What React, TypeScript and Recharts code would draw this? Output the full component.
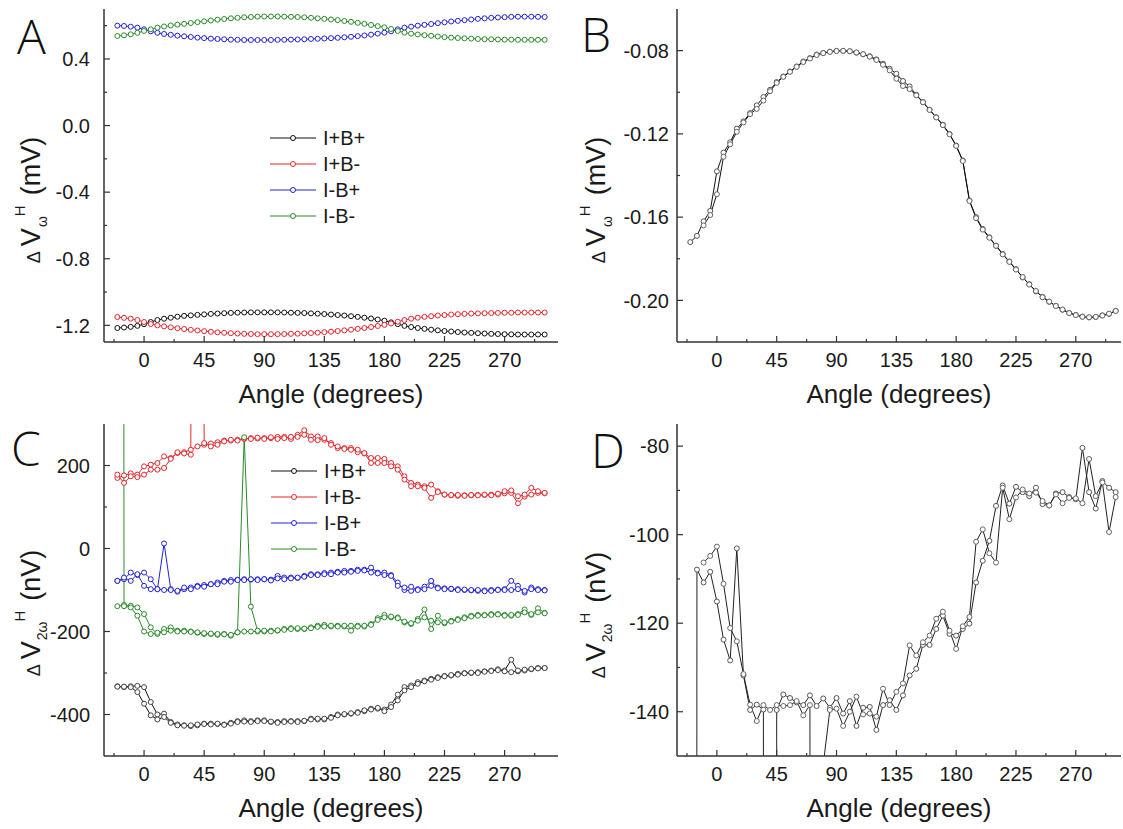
import { LineChart, Line, XAxis, YAxis, Legend } from 'recharts'

const FONT = '"Liberation Sans", Arial, sans-serif'
const AXIS = '#333'

const angles = [
  -20, -15, -10, -5, 0, 5, 10, 15, 20, 25,
  30, 35, 40, 45, 50, 55, 60, 65, 70, 75,
  80, 85, 90, 95, 100, 105, 110, 115, 120, 125,
  130, 135, 140, 145, 150, 155, 160, 165, 170, 175,
  180, 185, 190, 195, 200, 205, 210, 215, 220, 225,
  230, 235, 240, 245, 250, 255, 260, 265, 270, 275,
  280, 285, 290, 295, 300,
]

const legendNames = ['I+B+', 'I+B-', 'I-B+', 'I-B-']

// tick lists (minor + major)
const xTicks = [-22.5, 0, 22.5, 45, 67.5, 90, 112.5, 135, 157.5, 180, 202.5, 225, 247.5, 270, 292.5]
const yTicksA = [-1.2, -1.0, -0.8, -0.6, -0.4, -0.2, 0, 0.2, 0.4, 0.6]
const yTicksB = [-0.2, -0.18, -0.16, -0.14, -0.12, -0.1, -0.08]
const yTicksC = [-400, -300, -200, -100, 0, 100, 200]
const yTicksD = [-140, -130, -120, -110, -100, -90, -80]

// panel A, ΔV_ω^H (mV)
const aIpBp = [
  -1.216, -1.213, -1.209, -1.203, -1.193, -1.180, -1.168, -1.160, -1.154, -1.148,
  -1.143, -1.140, -1.137, -1.134, -1.131, -1.129, -1.127, -1.125, -1.124, -1.123,
  -1.122, -1.122, -1.122, -1.122, -1.122, -1.123, -1.124, -1.125, -1.126, -1.128,
  -1.130, -1.132, -1.135, -1.138, -1.141, -1.145, -1.149, -1.154, -1.159, -1.165,
  -1.172, -1.182, -1.193, -1.203, -1.210, -1.216, -1.221, -1.226, -1.230, -1.234,
  -1.237, -1.240, -1.243, -1.245, -1.247, -1.249, -1.251, -1.252, -1.253, -1.254,
  -1.255, -1.255, -1.255, -1.255, -1.255,
]
const aIpBm = [
  -1.150, -1.155, -1.160, -1.168, -1.180, -1.192, -1.200, -1.206, -1.212, -1.217,
  -1.222, -1.227, -1.231, -1.235, -1.239, -1.242, -1.245, -1.247, -1.249, -1.251,
  -1.252, -1.253, -1.253, -1.253, -1.253, -1.252, -1.251, -1.250, -1.248, -1.246,
  -1.244, -1.241, -1.238, -1.234, -1.230, -1.226, -1.221, -1.216, -1.210, -1.204,
  -1.197, -1.189, -1.178, -1.168, -1.160, -1.154, -1.149, -1.145, -1.141, -1.138,
  -1.135, -1.133, -1.131, -1.129, -1.128, -1.127, -1.126, -1.125, -1.124, -1.124,
  -1.123, -1.123, -1.123, -1.123, -1.123,
]
const aImBp = [
  0.600, 0.598, 0.594, 0.588, 0.578, 0.566, 0.557, 0.550, 0.545, 0.540,
  0.536, 0.532, 0.528, 0.525, 0.522, 0.520, 0.518, 0.516, 0.515, 0.514,
  0.514, 0.514, 0.514, 0.514, 0.515, 0.515, 0.516, 0.517, 0.518, 0.520,
  0.521, 0.523, 0.525, 0.527, 0.530, 0.533, 0.537, 0.541, 0.546, 0.552,
  0.558, 0.566, 0.578, 0.588, 0.594, 0.600, 0.605, 0.610, 0.615, 0.620,
  0.625, 0.629, 0.633, 0.637, 0.641, 0.644, 0.647, 0.649, 0.651, 0.653,
  0.654, 0.654, 0.654, 0.653, 0.652,
]
const aImBm = [
  0.538, 0.542, 0.548, 0.557, 0.568, 0.578, 0.588, 0.595, 0.601, 0.606,
  0.611, 0.616, 0.621, 0.626, 0.631, 0.636, 0.640, 0.644, 0.647, 0.650,
  0.652, 0.654, 0.655, 0.655, 0.655, 0.654, 0.653, 0.652, 0.650, 0.647,
  0.644, 0.641, 0.637, 0.633, 0.628, 0.623, 0.617, 0.611, 0.604, 0.597,
  0.590, 0.580, 0.568, 0.558, 0.552, 0.547, 0.543, 0.539, 0.535, 0.531,
  0.528, 0.526, 0.524, 0.522, 0.520, 0.519, 0.518, 0.517, 0.516, 0.516,
  0.515, 0.515, 0.515, 0.515, 0.515,
]

// panel B, two sweeps (mV)
const bSweep1 = [
  -0.172, -0.169, -0.162, -0.157, -0.138, -0.129, -0.124, -0.1175, -0.114, -0.110,
  -0.1063, -0.1023, -0.0988, -0.0951, -0.0924, -0.0900, -0.0876, -0.0852, -0.0836, -0.0819,
  -0.0811, -0.0805, -0.0801, -0.0801, -0.0803, -0.0810, -0.0818, -0.0827, -0.0842, -0.0863,
  -0.0887, -0.0911, -0.0946, -0.0972, -0.1012, -0.1047, -0.1084, -0.1120, -0.1156, -0.1200,
  -0.1256, -0.1328, -0.1520, -0.1600, -0.1657, -0.1697, -0.1737, -0.1777, -0.1813, -0.1850,
  -0.1890, -0.1922, -0.1957, -0.1983, -0.2007, -0.2026, -0.2045, -0.2060, -0.2070, -0.2078,
  -0.2082, -0.2080, -0.2072, -0.2065, -0.2050,
]
const bSweep2 = [
  null, null, -0.164, -0.159, -0.149, -0.131, -0.125, -0.119, -0.1145, -0.1105,
  -0.108, -0.104, -0.0995, -0.0955, -0.0926, -0.0902, -0.0878, -0.0855, -0.0838, -0.0821,
  -0.0812, -0.0806, -0.0802, -0.0801, -0.0803, -0.0809, -0.0817, -0.0829, -0.0845, -0.0868,
  -0.0895, -0.0935, -0.0970, -0.0985, -0.1015, -0.1048, -0.1085, -0.1121, -0.1158, -0.1202,
  -0.1258, -0.1330, -0.1522, -0.1605, -0.1660, -0.1699, -0.1738, -0.1779, -0.1815, -0.1852,
  -0.1888, -0.1924, -0.1955, -0.1985, -0.2006, -0.2027, -0.2044, -0.2061, -0.2071, -0.2079,
  -0.2081, -0.2079, -0.2073, -0.2064, -0.2051,
]

// panel C, ΔV_2ω^H (nV), two sweeps per configuration
const cIpBp1 = [
  -332, -334, -332, -331, -334, -370, -400, -398, -418, -424,
  -426, -428, -426, -422, -422, -423, -424, -420, -416, -414,
  -416, -414, -414, -418, -418, -416, -416, -416, -416, -410,
  -412, -412, -406, -400, -400, -398, -394, -392, -386, -386,
  -388, -376, -352, -334, -330, -322, -318, -314, -310, -307,
  -306, -302, -300, -300, -298, -296, -294, -291, -294, -268,
  -296, -294, -291, -288, -288,
]
const cIpBp2 = [
  -333, -333, -334, -346, -374, -402, -412, -406, -420, -426,
  -427, -426, -424, -423, -424, -422, -425, -422, -418, -417,
  -418, -416, -416, -417, -420, -418, -417, -418, -415, -412,
  -410, -410, -408, -402, -399, -397, -396, -390, -388, -384,
  -392, -382, -366, -342, -334, -326, -320, -316, -312, -308,
  -305, -304, -301, -299, -300, -297, -295, -293, -296, -298,
  -294, -292, -290, -289, -288,
]
const cIpBm1 = [
  170, 176, 181, 178, 198, 202, 206, 222, 218, 230,
  232, 238, 246, 250, 253, 256, 260, 260, 262, 264,
  266, 265, 266, 266, 269, 269, 264, 274, 285, 270,
  270, 262, 254, 242, 242, 242, 232, 229, 218, 218,
  216, 206, 198, 174, 158, 154, 150, 154, 138, 130,
  128, 127, 128, 128, 129, 129, 130, 130, 133, 134,
  109, 125, 130, 134, 133,
]
const cIpBm2 = [
  178, 158, 174, 172, 178, 190, 190, 194, 216, 232,
  229, 226, 5000, 254, 246, 250, 258, 262, 260, 265,
  264, 267, 264, 268, 264, 266, 269, 269, 274, 262,
  261, 266, 250, 246, 240, 238, 238, 230, 206, 206,
  206, 198, 190, 166, 150, 150, 146, 122, 136, 130,
  129, 129, 127, 129, 128, 130, 128, 132, 138, 140,
  126, 130, 146, 138, 134,
]
const cImBp1 = [
  -78, -74, -58, -64, -58, -74, -98, 12, -98, -104,
  -98, -94, -90, -88, -86, -82, -78, -76, -75, -74,
  -75, -74, -74, -75, -66, -70, -70, -71, -66, -62,
  -62, -59, -58, -56, -54, -54, -51, -51, -46, -58,
  -58, -64, -82, -100, -102, -98, -92, -78, -94, -96,
  -98, -98, -100, -101, -102, -101, -100, -99, -98, -78,
  -90, -106, -94, -98, -100,
]
const cImBp2 = [
  -78, -70, -78, -62, -90, -98, -98, -100, -100, -102,
  -94, -98, -92, -92, -86, -86, -80, -80, -76, -76,
  -74, -76, -74, -77, -72, -74, -72, -70, -68, -64,
  -64, -62, -62, -58, -58, -56, -54, -53, -58, -60,
  -64, -66, -90, -94, -92, -100, -98, -90, -96, -98,
  -97, -100, -99, -100, -100, -103, -102, -100, -100, -100,
  -98, -102, -98, -100, -101,
]
const cImBm1 = [
  -139, -136, -138, -142, -158, -190, -206, -194, -190, -198,
  -198, -200, -203, -206, -206, -208, -206, -210, -202, -200,
  -200, -200, -200, -198, -198, -194, -192, -194, -194, -190,
  -186, -184, -188, -186, -188, -198, -186, -188, -182, -168,
  -160, -166, -166, -178, -182, -170, -147, -194, -162, -180,
  -174, -170, -166, -162, -160, -160, -158, -158, -160, -162,
  -158, -147, -160, -144, -155,
]
const cImBm2 = [
  20000, -139, -142, -162, -200, -206, -203, -202, -198, -200,
  -200, -201, -202, -204, -205, -206, -207, -208, -202, 268,
  -140, -198, -198, -200, -197, -196, -194, -192, -193, -192,
  -189, -188, -186, -188, -186, -186, -188, -186, -184, -172,
  -166, -164, -168, -176, -180, -174, -166, -174, -178, -178,
  -176, -172, -168, -164, -162, -161, -160, -159, -162, -160,
  -160, -154, -158, -154, -156,
]

// panel D, two sweeps (nV)
const dSweep1 = [
  -3000, -107.9, -110.8, -108.4, -115.1, -123.7, -128.4, -103.1, -131.8, -139.6,
  -138.4, -139.5, -3000, -139.6, -136.1, -136.9, -137.9, -138.5, -136.3, -138.7,
  -137, -139.1, -136.9, -140.4, -137.6, -143.2, -139.1, -138.9, -144.1, -138.5,
  -137.4, -139.6, -136.3, -131.8, -130.3, -124.9, -124.9, -121.3, -118.3, -122.4,
  -122.8, -121.3, -120.1, -110.8, -105.9, -101.4, -93.5, -88.9, -93, -89.2,
  -90.4, -91.3, -89.4, -93.1, -93.4, -90.7, -90.4, -91.5, -92, -80.4,
  -90.4, -94.1, -87.9, -89.4, -90.4,
]
const dSweep2 = [
  null, null, -106.3, -104.8, -102.7, -111.1, -121.1, -124.1, -131.5, -138.4,
  -142.1, -138.5, -139.6, -138.5, -138.7, -138.5, -137.6, -140.8, -138.5, -3000,
  -152, -139.6, -139.3, -143.2, -140, -136.6, -140.6, -140.4, -141.1, -134.8,
  -138.5, -135.5, -133.6, -125, -127.3, -124.3, -122.8, -119, -117.4, -121.7,
  -125.8, -120.7, -118.6, -101.6, -98.8, -104.2, -106.3, -89.4, -96.5, -91.6,
  -89.8, -90.7, -90.5, -92.4, -93.4, -90.9, -92.9, -91.7, -91.8, -92.9,
  -82.9, -91.3, -88.2, -99.4, -91.5,
]

const COLORS = { ipbp: '#111111', ipbm: '#e3262b', imbp: '#2222d6', imbm: '#2a8a2a' }

const dataA = angles.map((angle, i) => ({ angle, ipbp: aIpBp[i], ipbm: aIpBm[i], imbp: aImBp[i], imbm: aImBm[i] }))
const dataB = angles.map((angle, i) => ({ angle, s1: bSweep1[i], s2: bSweep2[i] }))
const dataC = angles.map((angle, i) => ({
  angle,
  ipbp1: cIpBp1[i], ipbp2: cIpBp2[i],
  ipbm1: cIpBm1[i], ipbm2: cIpBm2[i],
  imbp1: cImBp1[i], imbp2: cImBp2[i],
  imbm1: cImBm1[i], imbm2: cImBm2[i],
}))
const dataD = angles.map((angle, i) => ({ angle, s1: dSweep1[i], s2: dSweep2[i] }))

type Side = 'left' | 'right' | 'top' | 'bottom'

function axisTick(side: Side, step: number, fmt?: (v: number) => string, gap = 12) {
  return function Tick(props: any) {
    const { x, y, payload } = props
    const v = payload.value as number
    const q = v / step
    const major = Math.abs(q - Math.round(q)) < 1e-6
    const len = major ? 6 : 3
    let x2 = x
    let y2 = y
    if (side === 'left') x2 = x + len
    if (side === 'right') x2 = x - len
    if (side === 'top') y2 = y + len
    if (side === 'bottom') y2 = y - len
    return (
      <g>
        <line x1={x} y1={y} x2={x2} y2={y2} stroke={AXIS} strokeWidth={1.2} />
        {major && fmt && side === 'left' && (
          <text x={x - gap} y={y} dy="0.36em" textAnchor="end" fontSize={20} fontFamily={FONT} fill="#1a1a1a">
            {fmt(v)}
          </text>
        )}
        {major && fmt && side === 'bottom' && (
          <text x={x} y={y + 25} textAnchor="middle" fontSize={20} fontFamily={FONT} fill="#1a1a1a">
            {fmt(v)}
          </text>
        )}
      </g>
    )
  }
}

const fmtDeg = (v: number) => String(v)

function frameAxes(xDomain: [number, number], yDomain: [number, number], yTicks: number[], yStep: number,
  yFmt: (v: number) => string, yWidth: number, yGap: number) {
  const line = { stroke: AXIS, strokeWidth: 1.5 }
  return [
    <XAxis key="xb" type="number" dataKey="angle" domain={xDomain} allowDataOverflow ticks={xTicks} interval={0}
      height={73} tickSize={0} tickMargin={0} tickLine={false} axisLine={line} tick={axisTick('bottom', 45, fmtDeg)} />,
    <XAxis key="xt" xAxisId="t" orientation="top" type="number" dataKey="angle" domain={xDomain} allowDataOverflow
      ticks={xTicks} interval={0} height={0} tickSize={0} tickMargin={0} tickLine={false} axisLine={line}
      tick={axisTick('top', 45)} />,
    <YAxis key="yl" type="number" domain={yDomain} allowDataOverflow ticks={yTicks} interval={0} width={yWidth}
      tickSize={0} tickMargin={0} tickLine={false} axisLine={line} tick={axisTick('left', yStep, yFmt, yGap)} />,
    <YAxis key="yr" yAxisId="r" orientation="right" type="number" domain={yDomain} allowDataOverflow ticks={yTicks}
      interval={0} width={0} tickSize={0} tickMargin={0} tickLine={false} axisLine={line}
      tick={axisTick('right', yStep)} />,
  ]
}

function series(dataKey: string, color: string, name?: string, marker?: string) {
  return (
    <Line key={dataKey} type="linear" dataKey={dataKey} name={name ?? dataKey} stroke={color} strokeWidth={1}
      dot={{ r: 2.5, stroke: marker ?? color, strokeWidth: 1, fill: '#fff' }} activeDot={false}
      legendType={name ? 'line' : 'none'} isAnimationActive={false} />
  )
}

const renderLegend = (props: any) => (
  <div style={{ fontFamily: FONT, fontSize: 20, color: '#1a1a1a' }}>
    {(props.payload || []).filter((e: any) => legendNames.includes(e.value)).map((e: any) => (
      <div key={e.value} style={{ display: 'flex', alignItems: 'center', height: 26 }}>
        <svg width={46} height={10} style={{ marginRight: 7 }}>
          <line x1={0} x2={46} y1={5} y2={5} stroke={e.color} strokeWidth={1} />
          <circle cx={23} cy={5} r={2.5} stroke={e.color} strokeWidth={1} fill="#fff" />
        </svg>
        <span>{e.value}</span>
      </div>
    ))}
  </div>
)

function YTitle({ x, y, sub, unit }: { x: number; y: number; sub: string; unit: string }) {
  return (
    <text transform={`translate(${x},${y}) rotate(-90)`} textAnchor="middle" fontSize={27} fontFamily={FONT} fill="#1a1a1a">
      <tspan fontSize={18}>Δ</tspan>
      <tspan dx={5}>V</tspan>
      <tspan fontSize={14} dx={1} dy={7}>{sub}</tspan>
      <tspan fontSize={15} dx={0} dy={-22}>H</tspan>
      <tspan dx={10} dy={15}>{unit}</tspan>
    </text>
  )
}

export default function App() {
  return (
    <div style={{ position: 'absolute', left: 0, top: 0, width: 1123, height: 829, overflow: 'hidden', background: '#fff' }}>
      <div style={{ position: 'absolute', left: 0, top: 0 }}>
        <LineChart width={560} height={415} data={dataA} margin={{ top: 9, right: 2, bottom: 0, left: 0 }}>
          {frameAxes([-30, 310], [-1.3, 0.7], yTicksA, 0.4, v => v.toFixed(1), 104, 14)}
          {series('ipbp', COLORS.ipbp, 'I+B+')}
          {series('ipbm', COLORS.ipbm, 'I+B-')}
          {series('imbp', COLORS.imbp, 'I-B+')}
          {series('imbm', COLORS.imbm, 'I-B-')}
          <Legend layout="vertical" align="center" verticalAlign="middle" content={renderLegend}
            wrapperStyle={{ left: 270, top: 125, width: 'auto' }} />
        </LineChart>
      </div>
      <div style={{ position: 'absolute', left: 560, top: 0 }}>
        <LineChart width={563} height={415} data={dataB} margin={{ top: 9, right: 2, bottom: 0, left: 0 }}>
          {frameAxes([-30, 304], [-0.22, -0.06], yTicksB, 0.04, v => v.toFixed(2), 117, 8)}
          {series('s1', '#111', undefined, '#555')}
          {series('s2', '#111', undefined, '#666')}
        </LineChart>
      </div>
      <div style={{ position: 'absolute', left: 0, top: 415 }}>
        <LineChart width={560} height={414} data={dataC} margin={{ top: 9, right: 2, bottom: 0, left: 0 }}>
          {frameAxes([-30, 310], [-500, 300], yTicksC, 200, v => String(v), 104, 14)}
          {series('ipbp1', COLORS.ipbp, 'I+B+', '#444')}
          {series('ipbm1', COLORS.ipbm, 'I+B-')}
          {series('imbp1', COLORS.imbp, 'I-B+')}
          {series('imbm1', COLORS.imbm, 'I-B-')}
          {series('ipbp2', COLORS.ipbp, undefined, '#444')}
          {series('ipbm2', COLORS.ipbm)}
          {series('imbp2', COLORS.imbp)}
          {series('imbm2', COLORS.imbm)}
          <Legend layout="vertical" align="center" verticalAlign="middle" content={renderLegend}
            wrapperStyle={{ left: 271, top: 43, width: 'auto' }} />
        </LineChart>
      </div>
      <div style={{ position: 'absolute', left: 560, top: 415 }}>
        <LineChart width={563} height={414} data={dataD} margin={{ top: 9, right: 2, bottom: 0, left: 0 }}>
          {frameAxes([-30, 304], [-150, -75], yTicksD, 20, v => String(v), 117, 8)}
          {series('s1', '#222', undefined, '#555')}
          {series('s2', '#222', undefined, '#666')}
        </LineChart>
      </div>
      <svg width={1123} height={829} style={{ position: 'absolute', left: 0, top: 0, pointerEvents: 'none' }}>
        <g fontFamily={'"Open Sans", "Liberation Sans", sans-serif'} fontWeight={300} fontSize={48} fill="#111">
          <text x={17} y={54}>A</text>
          <text x={581} y={52}>B</text>
          <text x={11} y={466}>C</text>
          <text x={591} y={468}>D</text>
        </g>
        <g fontFamily={FONT} fontSize={26} fill="#1a1a1a" textAnchor="middle">
          <text x={331} y={403}>Angle (degrees)</text>
          <text x={899} y={403}>Angle (degrees)</text>
          <text x={331} y={817}>Angle (degrees)</text>
          <text x={899} y={817}>Angle (degrees)</text>
        </g>
        <YTitle x={40} y={200} sub="ω" unit="(mV)" />
        <YTitle x={605} y={200} sub="ω" unit="(mV)" />
        <YTitle x={40} y={613} sub="2ω" unit="(nV)" />
        <YTitle x={605} y={615} sub="2ω" unit="(nV)" />
      </svg>
    </div>
  )
}
